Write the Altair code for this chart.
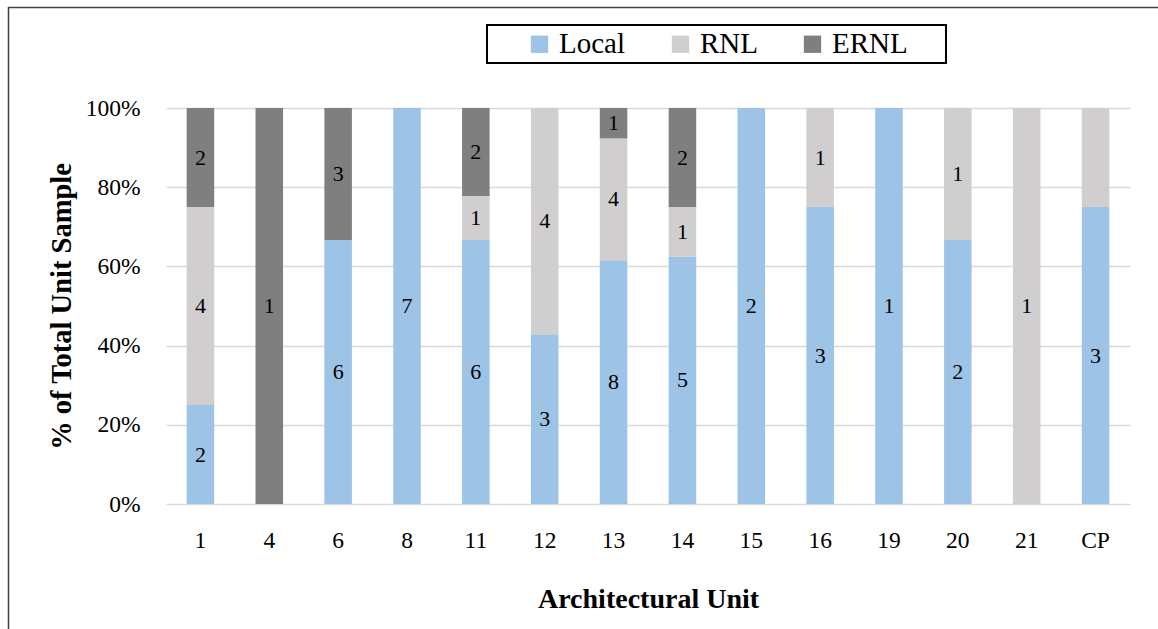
import altair as alt
import pandas as pd

# Sample composition per architectural unit (counts of sherds by origin)
units = ["1", "4", "6", "8", "11", "12", "13", "14", "15", "16", "19", "20", "21", "CP"]
local = [2, 0, 6, 7, 6, 3, 8, 5, 2, 3, 1, 2, 0, 3]
rnl = [4, 0, 0, 0, 1, 4, 4, 1, 0, 1, 0, 1, 1, 1]
ernl = [2, 1, 3, 0, 2, 0, 1, 2, 0, 0, 0, 0, 0, 0]
origins = ["Local", "RNL", "ERNL"]
colors = ["#9DC3E6", "#D0CECE", "#7F7F7F"]
unlabelled = {("CP", "RNL")}

rows = []
for i, u in enumerate(units):
    counts = [local[i], rnl[i], ernl[i]]
    total = sum(counts)
    base = 0
    for o, c in zip(origins, counts):
        if c == 0:
            continue
        start = base / total
        end = (base + c) / total
        rows.append(dict(unit=u, origin=o, count=c, start=start, end=end,
                         mid=(start + end) / 2,
                         label="" if (u, o) in unlabelled else str(c)))
        base += c
df = pd.DataFrame(rows)

FONT = "Liberation Serif"
W, H = 964, 396
LEFT, TOP = 166, 108

x_enc = alt.X("unit:N", sort=units,
              scale=alt.Scale(paddingInner=0.6, paddingOuter=0.3),
              axis=alt.Axis(title="Architectural Unit", labelAngle=0, ticks=False, tickSize=0,
                            domain=False, grid=False, labelFont=FONT, labelFontSize=23.5,
                            labelColor="#000000", labelPadding=43, labelBaseline="alphabetic",
                            titleFont=FONT, titleFontSize=28, titleFontWeight="bold",
                            titleColor="#000000", titleBaseline="alphabetic", titleY=103))

y_enc = alt.Y("start:Q", scale=alt.Scale(domain=[0, 1], nice=False),
              axis=alt.Axis(title="% of Total Unit Sample", format=".0%",
                            values=[0, 0.2, 0.4, 0.6, 0.8, 1.0], ticks=False, tickSize=0,
                            domain=False, grid=True, gridColor="#D9D9D9", gridWidth=1.5,
                            labelFont=FONT, labelFontSize=23.5, labelColor="#000000",
                            labelPadding=26, titleFont=FONT, titleFontSize=28.5,
                            titleFontWeight="bold", titleColor="#000000",
                            titleBaseline="alphabetic", titleX=-96))

bars = alt.Chart(df).mark_bar().encode(
    x=x_enc,
    y=y_enc,
    y2="end:Q",
    color=alt.Color("origin:N",
                    scale=alt.Scale(domain=origins, range=colors),
                    legend=alt.Legend(orient="none", legendX=359, legendY=-78.5,
                                      direction="horizontal", title=None,
                                      symbolType="square", symbolSize=300,
                                      symbolStrokeWidth=0, labelFont=FONT,
                                      labelFontSize=29, labelColor="#000000",
                                      labelOffset=5, columnPadding=40, padding=0)),
)

labels = alt.Chart(df).mark_text(font=FONT, fontSize=22, color="#000000",
                                 baseline="middle").encode(
    x=alt.X("unit:N", sort=units),
    y=alt.Y("mid:Q"),
    text="label:N",
)

one = pd.DataFrame({"k": [0]})

# Box around the legend
legend_box = alt.Chart(one).mark_rect(filled=False, stroke="#000000", strokeWidth=2).encode(
    x=alt.value(487 - LEFT), x2=alt.value(946 - LEFT),
    y=alt.value(25 - TOP), y2=alt.value(63 - TOP),
)

# Outer frame (top and left edges)
frame_top = alt.Chart(one).mark_rule(color="#404040", strokeWidth=1.5).encode(
    x=alt.value(8 - LEFT), x2=alt.value(1200 - LEFT), y=alt.value(7.5 - TOP),
)
frame_left = alt.Chart(one).mark_rule(color="#404040", strokeWidth=1.5).encode(
    x=alt.value(8.5 - LEFT), y=alt.value(7 - TOP), y2=alt.value(700 - TOP),
)

chart = alt.layer(bars, labels, legend_box, frame_top, frame_left).properties(
    width=W, height=H,
    autosize=alt.AutoSizeParams(type="none"),
    padding={"left": LEFT, "top": TOP, "right": 1158 - LEFT - W, "bottom": 629 - TOP - H},
    background="#FFFFFF",
).configure_view(stroke=None)

chart.save("out.html", embed_options={"renderer": "svg", "actions": False})
